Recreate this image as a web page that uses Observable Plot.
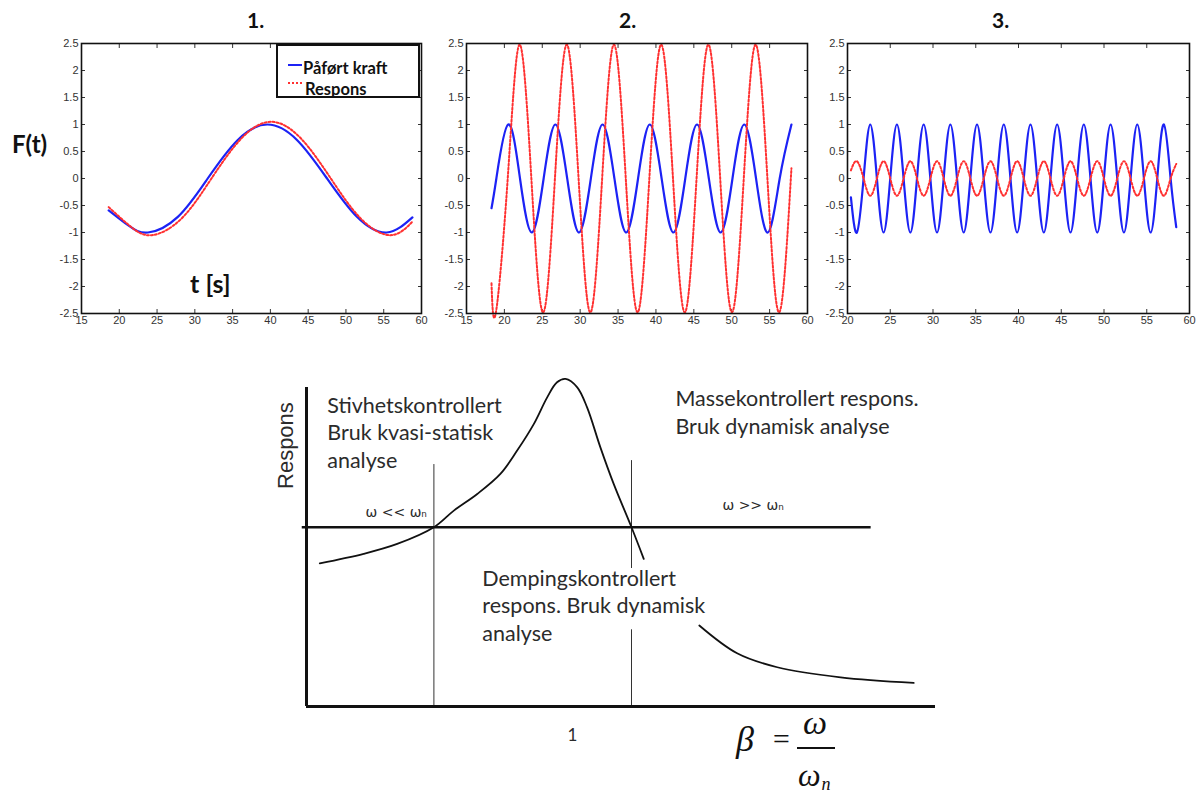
<!DOCTYPE html>
<html><head><meta charset="utf-8">
<script src="https://cdn.jsdelivr.net/npm/d3@7"></script>
<script src="https://cdn.jsdelivr.net/npm/@observablehq/plot@0.6"></script>
<style>
body{margin:0;background:#fff;}
#wrap{position:relative;width:1197px;height:793px;overflow:hidden;background:#fff;font-family:Lato,"Open Sans",sans-serif;}
.t{position:absolute;white-space:nowrap;line-height:1;color:#111;}
.b{font-weight:700;}
.serif{font-family:"Liberation Serif","DejaVu Serif",serif;font-style:italic;color:#111;}
</style></head><body><div id="wrap"></div>
<script>
// ---------- tick labels ----------
const xTicks12 = [15, 20, 25, 30, 35, 40, 45, 50, 55, 60];
const xTicks3 = [20, 25, 30, 35, 40, 45, 50, 55, 60];
const yTicks = [-2.5, -2, -1.5, -1, -0.5, 0, 0.5, 1, 1.5, 2, 2.5];
const panelTitles = ["1.", "2.", "3."];
const seriesNames = ["Påført kraft", "Respons"];

// ---------- panel 1 ----------
const t1Blue = [18.6, 21.2, 23.8, 27.75, 31.7, 35.65, 39.6, 43.55, 47.5, 51.45, 55.4, 58.8];
const v1Blue = [-0.59, -0.87, -1, -0.71, 0, 0.71, 1, 0.71, 0, -0.71, -1, -0.72];
const t1Red = [18.6, 21.5, 24.3, 28.25, 32.2, 36.15, 40.1, 44.05, 48.0, 51.95, 55.9, 58.8];
const v1Red = [-0.53, -0.89, -1.05, -0.74, 0, 0.74, 1.05, 0.74, 0, -0.74, -1.05, -0.8];

// ---------- panel 2 ----------
const t2Blue = [18.3, 18.94, 20.5, 22.06, 23.62, 25.18, 26.73, 28.29, 29.85, 31.41, 32.96, 34.52, 36.08, 37.64, 39.19, 40.75, 42.31, 43.87, 45.42, 46.98, 48.54, 50.1, 51.65, 53.21, 54.77, 56.33, 57.88];
const v2Blue = [-0.55, 0, 1, 0, -1, 0, 1, 0, -1, 0, 1, 0, -1, 0, 1, 0, -1, 0, 1, 0, -1, 0, 1, 0, -1, 0, 1];
const t2Red = [18.3, 18.88, 20.44, 22.0, 23.56, 25.11, 26.67, 28.23, 29.79, 31.34, 32.9, 34.46, 36.02, 37.57, 39.13, 40.69, 42.25, 43.8, 45.36, 46.92, 48.48, 50.03, 51.59, 53.15, 54.71, 56.26, 57.88];
const v2Red = [-1.94, -2.48, 0, 2.48, 0, -2.48, 0, 2.48, 0, -2.48, 0, 2.48, 0, -2.48, 0, 2.48, 0, -2.48, 0, 2.48, 0, -2.48, 0, 2.48, 0, -2.48, 0.19];

// ---------- panel 3 ----------
const t3 = [20.4, 21.10, 21.88, 22.66, 23.44, 24.22, 25.00, 25.78, 26.56, 27.35, 28.13, 28.91, 29.69, 30.47, 31.25, 32.03, 32.81, 33.59, 34.37, 35.15, 35.93, 36.72, 37.50, 38.28, 39.06, 39.84, 40.62, 41.40, 42.18, 42.96, 43.74, 44.52, 45.30, 46.08, 46.86, 47.64, 48.42, 49.21, 49.99, 50.77, 51.55, 52.33, 53.11, 53.89, 54.67, 55.45, 56.23, 57.01, 57.79, 58.45];
const v3Blue = [-0.35, -1, 0, 1, 0, -1, 0, 1, 0, -1, 0, 1, 0, -1, 0, 1, 0, -1, 0, 1, 0, -1, 0, 1, 0, -1, 0, 1, 0, -1, 0, 1, 0, -1, 0, 1, 0, -1, 0, 1, 0, -1, 0, 1, 0, -1, 0, 1, 0, -0.9];
const v3Red = [0.15, 0.32, 0, -0.32, 0, 0.32, 0, -0.32, 0, 0.32, 0, -0.32, 0, 0.32, 0, -0.32, 0, 0.32, 0, -0.32, 0, 0.32, 0, -0.32, 0, 0.32, 0, -0.32, 0, 0.32, 0, -0.32, 0, 0.32, 0, -0.32, 0, 0.32, 0, -0.32, 0, 0.32, 0, -0.32, 0, 0.32, 0, -0.32, 0, 0.27];

// ---------- bottom diagram (beta = omega/omega_n, response) ----------
const betaRise = [0.050, 0.215, 0.341, 0.479, 0.554, 0.642, 0.729, 0.792, 0.855, 0.905, 0.942, 0.974, 1.018, 1.055, 1.105, 1.155, 1.222, 1.268];
const respRise = [0.799, 0.852, 0.907, 1.000, 1.093, 1.186, 1.298, 1.428, 1.577, 1.725, 1.809, 1.828, 1.781, 1.669, 1.446, 1.242, 1.000, 0.824];
const betaTail = [1.477, 1.619, 1.770, 2.008, 2.283];
const respTail = [0.452, 0.297, 0.219, 0.163, 0.132];
const betaLow = 0.479;   // omega << omega_n boundary
const betaHigh = 1.222;  // omega >> omega_n boundary
const staticResp = 1;    // horizontal reference line
const betaTicks = [1];
const notes = [
  "Stivhetskontrollert\nBruk kvasi-statisk\nanalyse",
  "Massekontrollert respons.\nBruk dynamisk analyse",
  "Dempingskontrollert\nrespons. Bruk dynamisk\nanalyse"
];
const regionLabels = ["ω << ωₙ", "ω >> ωₙ"];
const yTitle = "Respons";

const wrap = document.getElementById("wrap");
function put(node, left, top) {
  node.style.position = "absolute";
  node.style.left = left + "px";
  node.style.top = top + "px";
  wrap.appendChild(node);
}
function txt(html, left, top, size, cls) {
  const d = document.createElement("div");
  d.className = "t " + (cls || "");
  d.style.fontSize = size + "px";
  d.innerHTML = html;
  put(d, left, top);
  return d;
}
const zipTV = (t, v) => t.map((x, i) => ({t: x, v: v[i]}));

const BLUE = "#1c22f5", RED = "#ff3030";

function panel(cfg) {
  const svg = Plot.plot({
    width: cfg.width, height: 300,
    marginLeft: cfg.ml, marginRight: cfg.mr, marginTop: 13, marginBottom: 17,
    x: {domain: cfg.xDomain},
    y: {domain: [-2.5, 2.5]},
    style: {background: "transparent", overflow: "visible", fontFamily: "'Liberation Sans', Arial, sans-serif", fontSize: "11px", color: "#333"},
    marks: [
      Plot.axisX(cfg.xTicks, {anchor: "bottom", tickSize: -4, tickPadding: 7, tickFormat: d => String(d), label: null}),
      Plot.axisX(cfg.xTicks, {anchor: "top", tickSize: -4, tickFormat: () => "", label: null}),
      Plot.axisY(yTicks, {anchor: "left", tickSize: -4, tickPadding: 7, tickFormat: d => String(d), label: null}),
      Plot.axisY(yTicks, {anchor: "right", tickSize: -4, tickFormat: () => "", label: null}),
      Plot.line(cfg.blue, {x: "t", y: "v", curve: "natural", stroke: BLUE, strokeWidth: 2.2}),
      Plot.line(cfg.red, {x: "t", y: "v", curve: "natural", stroke: RED, strokeWidth: 2, strokeDasharray: "2,2"}),
      Plot.frame({stroke: "#111", strokeWidth: 1.6})
    ]
  });
  put(svg, cfg.left, 30);
}

panel({left: 40, width: 400, ml: 41, mr: 19, xDomain: [15, 60], xTicks: xTicks12,
  blue: zipTV(t1Blue, v1Blue), red: zipTV(t1Red, v1Red)});
panel({left: 425, width: 390, ml: 41, mr: 8, xDomain: [15, 60], xTicks: xTicks12,
  blue: zipTV(t2Blue, v2Blue), red: zipTV(t2Red, v2Red)});
panel({left: 807, width: 390, ml: 40, mr: 8, xDomain: [20, 60], xTicks: xTicks3,
  blue: zipTV(t3, v3Blue), red: zipTV(t3, v3Red)});

// titles and axis words of the top row
txt(panelTitles[0], 247, 8.5, 21, "b");
txt(panelTitles[1], 619, 8.5, 21, "b");
txt(panelTitles[2], 992, 8.5, 21, "b");
txt("F(t)", 12, 132, 24, "b");
txt("t [s]", 190, 271, 25, "b");

// legend of panel 1
const lg = document.createElement("div");
lg.style.cssText = "width:140px;height:50px;border:2px solid #111;background:#fff;";
put(lg, 276, 44);
const l1 = document.createElement("div");
l1.style.cssText = `width:14px;height:0;border-top:2px solid ${BLUE};`;
put(l1, 288, 64);
const l2 = document.createElement("div");
l2.style.cssText = `width:14px;height:0;border-top:2px dotted ${RED};`;
put(l2, 288, 82);
txt(seriesNames[0], 303, 59.5, 16.5, "b");
txt(seriesNames[1], 305, 81, 16.5, "b");

// ---------- bottom diagram ----------
const rise = betaRise.map((b, i) => ({b, r: respRise[i]}));
const tail = betaTail.map((b, i) => ({b, r: respTail[i]}));
const INK = "#2b2b2b";
const bottom = Plot.plot({
  width: 710, height: 433,
  marginLeft: 56, marginRight: 25, marginTop: 27, marginBottom: 87,
  x: {domain: [0, 2.365], axis: null},
  y: {domain: [0, 1.78], axis: null},
  style: {background: "transparent", overflow: "visible", fontFamily: "Lato, 'Open Sans', sans-serif", color: INK},
  marks: [
    Plot.ruleX([betaLow], {y1: 0, y2: 1.35, stroke: "#333", strokeWidth: 1}),
    Plot.ruleX([betaHigh], {y1: 0, y2: 0.428, stroke: "#333", strokeWidth: 1}),
    Plot.ruleX([betaHigh], {y1: 0.77, y2: 1.372, stroke: "#333", strokeWidth: 1}),
    Plot.ruleY([staticResp], {x1: -0.016, x2: 2.123, stroke: "#111", strokeWidth: 2.6}),
    Plot.ruleX([0], {y1: 0, y2: 1.78, stroke: "#111", strokeWidth: 3}),
    Plot.ruleY([0], {x1: 0, x2: 2.365, stroke: "#111", strokeWidth: 3}),
    Plot.line(rise, {x: "b", y: "r", curve: "catmull-rom", stroke: "#111", strokeWidth: 1.8}),
    Plot.line(tail, {x: "b", y: "r", curve: "catmull-rom", stroke: "#111", strokeWidth: 1.8}),
    Plot.text(betaTicks, {x: d => d, y: 0, dy: 29, text: d => String(d), fontSize: 17, fill: INK}),
    Plot.text([notes[0]], {x: 0.078, y: 1.333, text: d => d, textAnchor: "start", lineAnchor: "bottom", lineHeight: 1.28, fontSize: 21.5, fill: INK}),
    Plot.text([notes[1]], {x: 1.387, y: 1.523, text: d => d, textAnchor: "start", lineAnchor: "bottom", lineHeight: 1.28, fontSize: 21.5, fill: INK}),
    Plot.text([notes[2]], {x: 0.661, y: 0.368, text: d => d, textAnchor: "start", lineAnchor: "bottom", lineHeight: 1.28, fontSize: 21.5, fill: INK}),
    Plot.text([regionLabels[0]], {x: 0.222, y: 1.056, text: d => d, textAnchor: "start", lineAnchor: "bottom", fontSize: 14, fontFamily: "'DejaVu Sans', sans-serif", fill: INK}),
    Plot.text([regionLabels[1]], {x: 1.564, y: 1.099, text: d => d, textAnchor: "start", lineAnchor: "bottom", fontSize: 14, fontFamily: "'DejaVu Sans', sans-serif", fill: INK}),
    Plot.text([yTitle], {x: -0.079, y: 1.456, text: d => d, rotate: -90, fontSize: 22, fontFamily: "'Liberation Sans', Arial, sans-serif", fill: INK})
  ]
});
put(bottom, 250, 360);

// beta = omega / omega_n
txt("β", 736, 721, 36, "serif");
txt("=", 771, 724, 30, "serif");
const bar = document.createElement("div");
bar.style.cssText = "width:38px;height:0;border-top:2px solid #111;";
put(bar, 797, 747);
txt("ω", 803, 706, 34, "serif");
txt("ω<span style=\"font-size:18px;position:relative;top:4px;left:1px\">n</span>", 798, 759, 32, "serif");
</script></body></html>
